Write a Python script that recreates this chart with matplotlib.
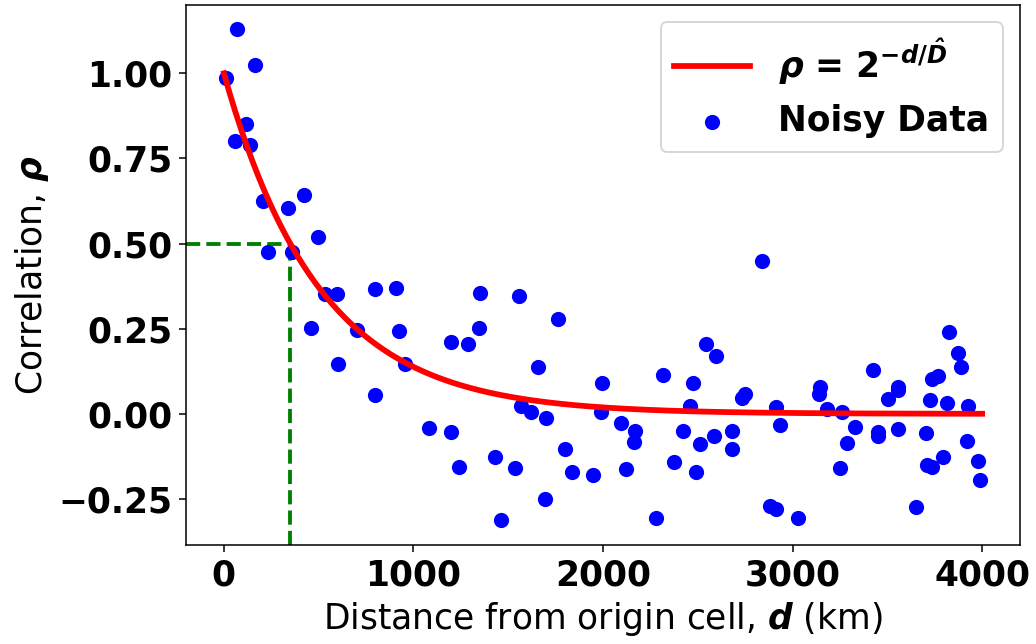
import numpy as np
import matplotlib
matplotlib.use("Agg")
import matplotlib.pyplot as plt

# Fitted decorrelation distance (km)
D_hat = 350.0

# Observed correlations at each distance from the origin cell
distance_km = [
    10, 68, 58, 116, 137, 163, 206, 232, 337, 358,
    422, 495, 458, 532, 596, 601, 701, 796, 796, 906,
    922, 954, 1080, 1196, 1196, 1238, 1286, 1344, 1349, 1428,
    1460, 1534, 1555, 1565, 1618, 1655, 1697, 1692, 1760, 1797,
    1839, 1945, 1987, 1997, 2097, 2119, 2171, 2166, 2282, 2319,
    2377, 2424, 2461, 2477, 2493, 2514, 2545, 2588, 2598, 2682,
    2682, 2735, 2751, 2841, 2883, 2914, 2914, 2935, 3030, 3146,
    3141, 3183, 3262, 3252, 3289, 3331, 3426, 3452, 3452, 3505,
    3557, 3557, 3557, 3652, 3705, 3726, 3737, 3768, 3710, 3737,
    3794, 3816, 3826, 3874, 3889, 3926, 3921, 3979, 3989,
]
correlation = [
    0.985, 1.129, 0.801, 0.851, 0.789, 1.023, 0.626, 0.474, 0.605, 0.474,
    0.643, 0.520, 0.251, 0.351, 0.351, 0.146, 0.246, 0.368, 0.056, 0.371,
    0.243, 0.146, -0.041, 0.211, -0.053, -0.155, 0.205, 0.251, 0.354, -0.126,
    -0.313, -0.158, 0.345, 0.023, 0.006, 0.137, -0.012, -0.251, 0.278, -0.102,
    -0.170, -0.178, 0.006, 0.091, -0.026, -0.161, -0.050, -0.082, -0.307, 0.114,
    -0.140, -0.050, 0.023, 0.091, -0.170, -0.088, 0.205, -0.064, 0.170, -0.050,
    -0.102, 0.047, 0.058, 0.450, -0.269, -0.278, 0.020, -0.032, -0.307, 0.079,
    0.058, 0.015, 0.006, -0.158, -0.085, -0.038, 0.129, -0.053, -0.064, 0.044,
    0.079, 0.070, -0.044, -0.272, -0.056, 0.041, 0.102, 0.111, -0.149, -0.155,
    -0.126, 0.032, 0.240, 0.178, 0.137, 0.023, -0.079, -0.137, -0.193,
]

x_ticks = [0, 1000, 2000, 3000, 4000]
y_ticks = [-0.25, 0.0, 0.25, 0.5, 0.75, 1.0]

plt.rcParams["font.family"] = "DejaVu Sans"
plt.rcParams["mathtext.fontset"] = "dejavusans"

DPI = 138
fig = plt.figure(figsize=(1036 / DPI, 644 / DPI), dpi=DPI)
ax = fig.add_axes([0.1795, 0.1537, 0.8051, 0.8383])

d = np.linspace(0, 4000, 400)
rho = 2.0 ** (-d / D_hat)
fit_label = (r"$\boldsymbol{\rho}$ = $\mathbf{2}"
             r"^{\mathbf{-}\mathbfit{d}\mathbf{/}\mathbfit{\hat{D}}}$")
ax.plot(d, rho, color="red", lw=3, label=fit_label, zorder=3)
ax.scatter(distance_km, correlation, s=48, color="blue", label="Noisy Data", zorder=2)

xmin, xmax = -200, 4200
ymin, ymax = -0.385, 1.2
ax.plot([xmin, D_hat], [0.5, 0.5], color="green", ls="--", lw=2, zorder=1)
ax.plot([D_hat, D_hat], [ymin, 0.5], color="green", ls="--", lw=2, zorder=1)
ax.set_xlim(xmin, xmax)
ax.set_ylim(ymin, ymax)

ax.set_xticks(x_ticks)
ax.set_yticks(y_ticks)
ax.set_yticklabels([f"{v:.2f}".replace("-", "\u2212") for v in y_ticks])
for lab in ax.get_xticklabels() + ax.get_yticklabels():
    lab.set_fontweight("bold")
    lab.set_fontsize(18)

ax.set_xlabel(r"Distance from origin cell, $\boldsymbol{d}$ (km)", fontsize=18)
ax.set_ylabel(r"Correlation, $\boldsymbol{\rho}$", fontsize=18)

leg = ax.legend(loc="upper right", scatterpoints=1, handlelength=2.2,
                prop={"weight": "bold", "size": 18})

fig.savefig("out.png", dpi=DPI)
